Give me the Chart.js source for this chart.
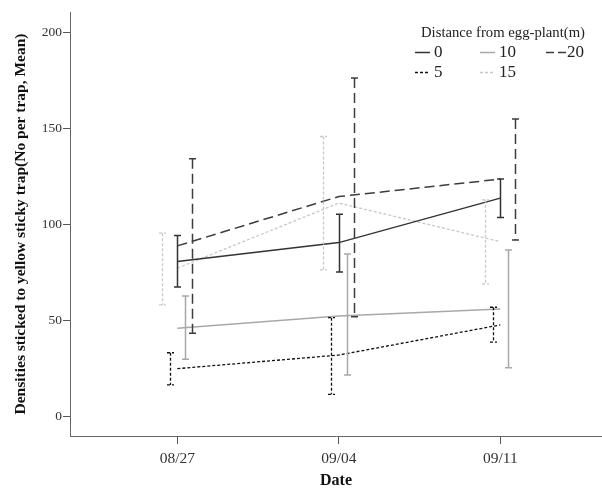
<!DOCTYPE html>
<html>
<head>
<meta charset="utf-8">
<script src="https://cdn.jsdelivr.net/npm/chart.js@4/dist/chart.umd.min.js"></script>
<style>
  html, body { margin: 0; padding: 0; background: #fff; }
  #wrap { width: 602px; height: 488px; }
</style>
</head>
<body>
<div id="wrap"><canvas id="myChart" width="602" height="488"></canvas></div>
<script>
const dates = ["08/27", "09/04", "09/11"];
const distances = ["0", "5", "10", "15", "20"];

// means per distance
const mean0 = [80.5, 90.4, 113.6];
const mean5 = [24.7, 31.8, 47.5];
const mean10 = [45.8, 52.2, 55.8];
const mean15 = [77.1, 111.0, 90.9];
const mean20 = [88.7, 114.4, 123.5];

// error bar ends (low / high)
const low0 = [67.2, 75.1, 103.5];
const high0 = [94.1, 105.2, 123.5];
const low5 = [16.2, 11.3, 38.5];
const high5 = [33.0, 51.3, 56.7];
const low10 = [29.6, 21.4, 25.2];
const high10 = [62.6, 84.4, 86.6];
const low15 = [57.9, 76.2, 68.9];
const high15 = [95.3, 145.7, 112.7];
const low20 = [43.2, 51.8, 91.8];
const high20 = [134.1, 176.2, 154.8];

const yTicks = [0, 50, 100, 150, 200];

const means = [mean0, mean5, mean10, mean15, mean20];
const lows = [low0, low5, low10, low15, low20];
const highs = [high0, high5, high10, high15, high20];

// styles: colour, dash, width, error-bar dodge
const styles = [
  { color: "#333333", dash: [], width: 1.5, dodge: 0 },
  { color: "#111111", dash: [3, 2], width: 1.3, dodge: -0.047 },
  { color: "#a8a8a8", dash: [], width: 1.5, dodge: 0.049 },
  { color: "#c8c8c8", dash: [3, 2], width: 1.3, dodge: -0.096 },
  { color: "#3c3c3c", dash: [10, 5], width: 1.5, dodge: 0.092 },
];

const datasets = distances.map((d, k) => ({
  label: d,
  data: means[k].map((v, i) => ({ x: i, y: v })),
  borderColor: styles[k].color,
  borderDash: styles[k].dash,
  borderWidth: styles[k].width,
  pointRadius: 0,
  fill: false,
  tension: 0,
}));

const errorBars = {
  id: "errorBars",
  afterDatasetsDraw(chart) {
    const ctx = chart.ctx;
    const xs = chart.scales.x;
    const ys = chart.scales.y;
    ctx.save();
    distances.forEach((d, k) => {
      const s = styles[k];
      ctx.strokeStyle = s.color;
      ctx.lineWidth = s.width;
      ctx.setLineDash(s.dash);
      dates.forEach((dt, i) => {
        const px = Math.round(xs.getPixelForValue(i + s.dodge)) + 0.5;
        const top = ys.getPixelForValue(highs[k][i]);
        const bot = ys.getPixelForValue(lows[k][i]);
        ctx.beginPath();
        ctx.moveTo(px, top);
        ctx.lineTo(px, bot);
        ctx.moveTo(px - 3.5, top);
        ctx.lineTo(px + 3.5, top);
        ctx.moveTo(px - 3.5, bot);
        ctx.lineTo(px + 3.5, bot);
        ctx.stroke();
      });
    });
    ctx.restore();
  },
};

// legend laid out like the original: 3 columns, 2 rows
const legendBox = {
  id: "legendBox",
  afterDraw(chart) {
    const ctx = chart.ctx;
    ctx.save();
    ctx.font = "14.7px 'Liberation Serif', serif";
    ctx.fillStyle = "#222";
    ctx.textBaseline = "middle";
    ctx.textAlign = "left";
    ctx.fillText("Distance from egg-plant(m)", 421, 33);
    const cells = [
      [415, 52], [415, 72], [480, 52], [480, 72], [546, 52],
    ];
    ctx.font = "17px 'Liberation Serif', serif";
    distances.forEach((d, k) => {
      const s = styles[k];
      const [lx, ly] = cells[k];
      ctx.strokeStyle = s.color;
      ctx.lineWidth = s.width;
      ctx.setLineDash(k === 4 ? [8, 4] : s.dash);
      ctx.beginPath();
      ctx.moveTo(lx, ly + 0.5);
      ctx.lineTo(lx + (k === 4 ? 20 : 15), ly + 0.5);
      ctx.stroke();
      ctx.setLineDash([]);
      ctx.fillStyle = "#222";
      ctx.fillText(d, lx + (k === 4 ? 21 : 19), ly + 1);
    });
    ctx.restore();
  },
};

Chart.defaults.font.family = "'Liberation Serif', serif";
Chart.defaults.color = "#333";

const config = {
  type: "line",
  data: { datasets: datasets },
  options: {
    responsive: false,
    animation: false,
    layout: { padding: { top: 12, right: 0, left: 0, bottom: 0 } },
    plugins: {
      legend: { display: false },
      tooltip: { enabled: false },
    },
    scales: {
      x: {
        type: "linear",
        min: -0.665,
        max: 2.63,
        afterBuildTicks(axis) {
          axis.ticks = dates.map((d, i) => ({ value: i }));
        },
        afterFit(axis) {
          axis.height = 52;
        },
        ticks: {
          callback: (v) => dates[v],
          font: { size: 15.5 },
          color: "#333",
          padding: 6,
          maxRotation: 0,
        },
        grid: {
          drawOnChartArea: false,
          drawTicks: true,
          tickLength: 8,
          color: "#555",
        },
        border: { color: "#666", width: 1 },
        title: {
          display: true,
          text: "Date",
          font: { size: 16, weight: "bold" },
          color: "#111",
          padding: { top: 0, bottom: -2 },
        },
      },
      y: {
        type: "linear",
        min: -10.4,
        max: 210.6,
        afterBuildTicks(axis) {
          axis.ticks = yTicks.map((v) => ({ value: v }));
        },
        afterFit(axis) {
          axis.width = 70;
        },
        ticks: {
          font: { size: 13.5 },
          color: "#333",
          padding: 1,
        },
        grid: {
          drawOnChartArea: false,
          drawTicks: true,
          tickLength: 7,
          color: "#555",
        },
        border: { color: "#666", width: 1 },
        title: {
          display: true,
          text: "Densities sticked to yellow sticky trap(No per trap, Mean)",
          font: { size: 15.5, weight: "bold" },
          color: "#111",
          padding: { top: 12, bottom: 0 },
        },
      },
    },
  },
  plugins: [errorBars, legendBox],
};

const myChart = new Chart(document.getElementById("myChart"), config);
</script>
</body>
</html>
